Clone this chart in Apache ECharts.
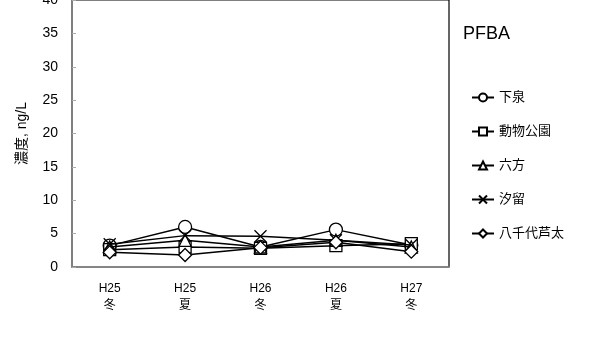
<!DOCTYPE html>
<html>
<head>
<meta charset="utf-8">
<script src="https://cdn.jsdelivr.net/npm/echarts@6/dist/echarts.min.js"></script>
<style>
html,body{margin:0;padding:0;background:#fff;}
#chart{width:605px;height:338px;}
</style>
</head>
<body>
<div id="chart"></div>
<script>
// Sampling periods (year / season)
const categories = ['H25\n冬', 'H25\n夏', 'H26\n冬', 'H26\n夏', 'H27\n冬'];

// PFBA concentration, ng/L, per site
const shimoizumi   = [3.2, 6.0, 3.0, 5.6, 3.3];
const doubutsu     = [2.6, 3.0, 2.8, 3.2, 3.5];
const roppou       = [3.0, 4.0, 3.0, 4.0, 3.0];
const shiodome     = [3.4, 4.7, 4.6, 4.0, 3.3];
const yachiyo      = [2.2, 1.8, 2.9, 3.7, 2.3];

const siteNames = ['下泉', '動物公園', '六方', '汐留', '八千代芦太'];
const siteValues = [shimoizumi, doubutsu, roppou, shiodome, yachiyo];
const siteSymbols = ['circle', 'rect', 'triangle', 'path://M0,0L10,10M10,0L0,10', 'diamond'];
const siteSymbolSizes = [13, 12, 12, 12, 13];

// y axis tick range
const yMin = 0, yMax = 40, yStep = 5;

const fontFamily = '"Liberation Sans", Arial, "Noto Sans CJK JP", sans-serif';

const chart = echarts.init(document.getElementById('chart'), null, {renderer: 'canvas'});

const series = siteNames.map((name, i) => ({
  name: name,
  type: 'line',
  data: siteValues[i],
  symbol: siteSymbols[i],
  symbolSize: siteSymbolSizes[i],
  showAllSymbol: true,
  lineStyle: {color: '#000', width: 1.5},
  itemStyle: {color: '#fff', borderColor: '#000', borderWidth: 1.3},
  emphasis: {disabled: true},
  z: 2 + i
}));

chart.setOption({
  animation: false,
  backgroundColor: '#fff',
  title: {
    text: 'PFBA',
    left: 458,
    top: 20,
    textStyle: {fontFamily: fontFamily, fontSize: 18, fontWeight: 'normal', color: '#000'}
  },
  legend: {
    orient: 'vertical',
    left: 466,
    top: 86,
    itemGap: 21,
    itemWidth: 22,
    itemHeight: 10,
    textStyle: {fontFamily: fontFamily, fontSize: 13, color: '#000'},
    data: siteNames
  },
  grid: {
    left: 72, right: 156, top: 0, bottom: 71,
    outerBoundsMode: 'none',
    containLabel: false,
    show: true, borderColor: '#000', borderWidth: 1.2, backgroundColor: 'transparent'
  },
  xAxis: {
    type: 'category',
    data: categories,
    boundaryGap: true,
    axisLine: {lineStyle: {color: '#888', width: 1.5}},
    axisTick: {inside: true, length: 4, lineStyle: {color: '#aaa'}},
    axisLabel: {fontFamily: fontFamily, fontSize: 12, color: '#000', lineHeight: 17, margin: 13}
  },
  yAxis: {
    type: 'value',
    min: yMin, max: yMax, interval: yStep,
    name: '濃度, ng/L',
    nameLocation: 'middle',
    nameGap: 43,
    nameRotate: 90,
    nameTextStyle: {fontFamily: fontFamily, fontSize: 14, color: '#000'},
    splitLine: {show: false},
    axisLine: {show: true, lineStyle: {color: '#888', width: 1.5}},
    axisTick: {show: true, inside: true, length: 4, lineStyle: {color: '#aaa'}},
    axisLabel: {fontFamily: fontFamily, fontSize: 14, color: '#000', margin: 14}
  },
  series: series
});
</script>
</body>
</html>
